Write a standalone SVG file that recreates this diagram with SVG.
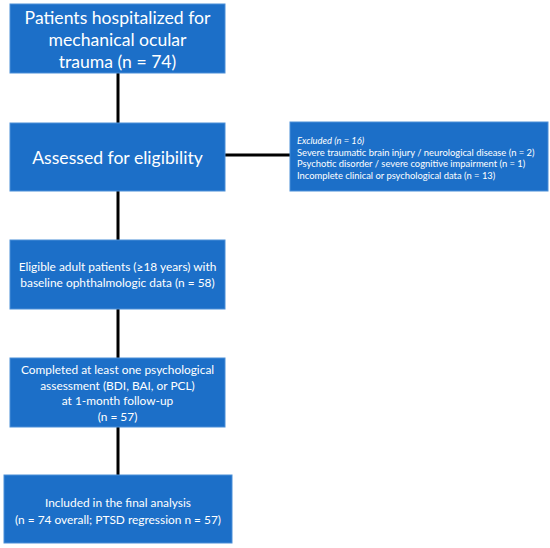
<svg xmlns="http://www.w3.org/2000/svg" width="550" height="548" viewBox="0 0 550 548">
<style>
.box{fill:#1c6fc8;stroke:#4b8fd8;stroke-width:1}
.t{font-family:Lato,"Liberation Sans",sans-serif;fill:#ffffff;text-anchor:middle}
.big{font-size:17.6px}
.mid{font-size:11.9px}
.sm{font-size:9.4px;text-anchor:start}
.ln{stroke:#000;stroke-width:3;fill:none}
</style>
<rect width="550" height="548" fill="#ffffff"/>
<g id="connectors">
<line class="ln" x1="118" y1="73" x2="118" y2="123"/>
<line class="ln" x1="118" y1="191" x2="118" y2="240"/>
<line class="ln" x1="118" y1="309" x2="118" y2="358"/>
<line class="ln" x1="118" y1="427" x2="118" y2="475"/>
<line class="ln" x1="225" y1="155" x2="290" y2="155"/>
</g>
<g id="n1">
<rect class="box" x="10" y="4" width="215" height="69"/>
<text class="t big"><tspan x="117.5" y="24">Patients hospitalized for</tspan><tspan x="117.5" y="46">mechanical ocular</tspan><tspan x="117.5" y="68">trauma (n = 74)</tspan></text>
</g>
<g id="n2">
<rect class="box" x="10" y="123" width="215" height="68"/>
<text class="t big" x="117.5" y="164">Assessed for eligibility</text>
</g>
<g id="excluded">
<rect class="box" x="290" y="122" width="258" height="69"/>
<text class="t sm"><tspan x="297" y="144" font-style="italic">Excluded (n = 16)</tspan><tspan x="297" y="155.5">Severe traumatic brain injury / neurological disease (n = 2)</tspan><tspan x="297" y="167">Psychotic disorder / severe cognitive impairment (n = 1)</tspan><tspan x="297" y="178.5">Incomplete clinical or psychological data (n = 13)</tspan></text>
</g>
<g id="n3">
<rect class="box" x="10" y="240" width="215" height="69"/>
<text class="t mid"><tspan x="117.5" y="271">Eligible adult patients (≥18 years) with</tspan><tspan x="117.5" y="287">baseline ophthalmologic data (n = 58)</tspan></text>
</g>
<g id="n4">
<rect class="box" x="10" y="358" width="215" height="69"/>
<text class="t mid"><tspan x="117.5" y="374">Completed at least one psychological</tspan><tspan x="117.5" y="389.5">assessment (BDI, BAI, or PCL)</tspan><tspan x="117.5" y="405">at 1-month follow-up</tspan><tspan x="117.5" y="420.5">(n = 57)</tspan></text>
</g>
<g id="n5">
<rect class="box" x="4" y="475" width="228" height="68"/>
<text class="t mid"><tspan x="118" y="507">Included in the final analysis</tspan><tspan x="118" y="524">(n = 74 overall; PTSD regression n = 57)</tspan></text>
</g>
</svg>
